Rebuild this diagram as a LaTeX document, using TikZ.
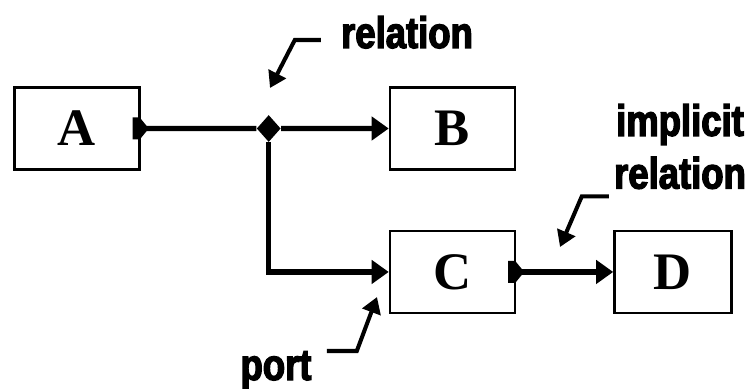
\documentclass[tikz,border=0pt]{standalone}
\usepackage{fontspec}
\setmainfont{Liberation Serif}
\newfontfamily\lblfont[FakeStretch=0.83,FakeBold=3]{Liberation Sans}
\usetikzlibrary{arrows.meta,positioning,shapes.geometric,calc}

\begin{document}
\begin{tikzpicture}[node distance=4.96cm,
   blk/.style={draw,line width=1.4pt,minimum width=2.5cm,minimum height=1.64cm,
               font=\bfseries\fontsize{30}{30}\selectfont},
   wire/.style={line width=3pt},
   conn/.style={wire,-{Triangle[length=3.4mm,width=4.6mm]}},
   junction/.style={diamond,fill,inner sep=0pt,minimum width=0.48cm,minimum height=0.54cm},
   lbl/.style={inner sep=0pt,align=center,font=\lblfont\bfseries\fontsize{25}{30}\selectfont},
   leader/.style={line width=2.3pt,-{Triangle[length=3.2mm,width=3.8mm]}}]
  \useasboundingbox (0,0) rectangle (15.04,7.76);
  % blocks
  \node[blk] (A) at (1.54,5.19) {A};
  \node[blk,right=of A] (B) {B};
  \node[blk,below=1.18cm of B] (C) {C};
  \node[blk,minimum width=2.34cm,right=1.94cm of C] (D) {D};
  \node[junction] (jn) at ($(A.east)!0.516!(B.west)$) {};
  % output ports
  \fill ([xshift=-1.6mm,yshift=2.2mm]A.east) -- ++(0,-4.4mm) -- ++(1.4mm,0)
        -- ([xshift=1.6mm]A.east) -- ([xshift=-0.2mm,yshift=2.2mm]A.east) -- cycle;
  \fill ([xshift=-1.6mm,yshift=2.2mm]C.east) -- ++(0,-4.4mm) -- ++(1.4mm,0)
        -- ([xshift=1.6mm]C.east) -- ([xshift=-0.2mm,yshift=2.2mm]C.east) -- cycle;
  % relations
  \draw[wire] (A.east) -- (jn);
  \draw[conn] (jn) -- (B);
  \draw[conn] (jn) |- (C);
  \draw[conn] (C) -- (D);
  % labels
  \node[lbl,anchor=base] (rel) at (8.14,6.8) {relation};
  \node[lbl] (impl) at (13.6,4.83) {implicit\\relation};
  \node[lbl,anchor=base] (plbl) at (5.52,0.16) {port};
  \coordinate (relTip) at (5.4,6.0);
  \coordinate (implTip) at (11.2,2.82);
  \coordinate (portTip) at (7.54,1.82);
  \draw[leader] ([xshift=-4mm,yshift=1.6mm]rel.base west) -- ++(-0.52,0) -- (relTip);
  \draw[leader] ([xshift=-1mm,yshift=-1.4mm]impl.south west) -- ++(-0.54,0) -- (implTip);
  \draw[leader] ([xshift=3mm]plbl.north east) -- ++(0.6,0) -- (portTip);
\end{tikzpicture}
\end{document}
